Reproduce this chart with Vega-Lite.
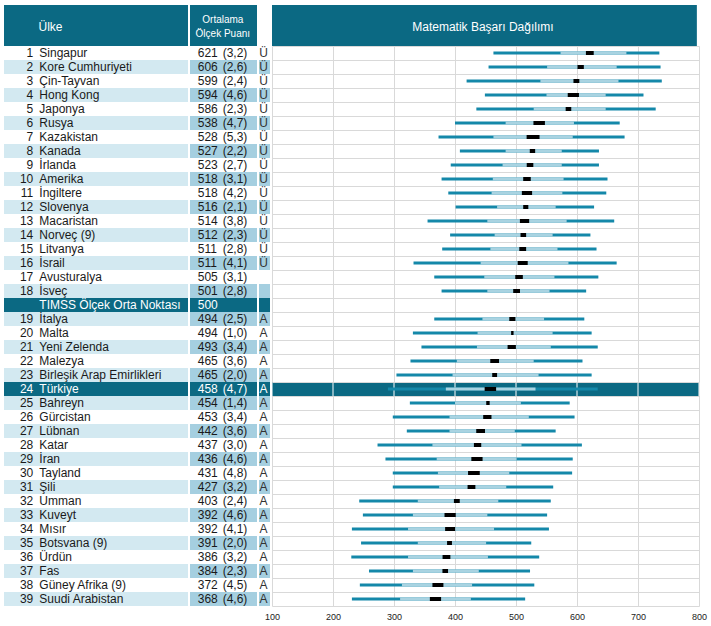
{
  "$schema": "https://vega.github.io/schema/vega-lite/v6.json",
  "padding": {"left": 4, "top": 5, "right": 4, "bottom": 4},
  "datasets": {
    "tablo": [
      {"sira":1,"no":1,"ulke":"Singapur","puan":621,"hata":"(3,2)","harf":"Ü","tur":"ulke","p5":463,"p25":573,"ort_alt":614.6,"ort_ust":627.4,"p75":681,"p95":735},
      {"sira":2,"no":2,"ulke":"Kore Cumhuriyeti","puan":606,"hata":"(2,6)","harf":"Ü","tur":"ulke","p5":455,"p25":551,"ort_alt":600.8,"ort_ust":611.2,"p75":665,"p95":737},
      {"sira":3,"no":3,"ulke":"Çin-Tayvan","puan":599,"hata":"(2,4)","harf":"Ü","tur":"ulke","p5":419,"p25":540,"ort_alt":594.2,"ort_ust":603.8,"p75":668,"p95":739},
      {"sira":4,"no":4,"ulke":"Hong Kong","puan":594,"hata":"(4,6)","harf":"Ü","tur":"ulke","p5":449,"p25":550,"ort_alt":584.8,"ort_ust":603.2,"p75":647,"p95":709},
      {"sira":5,"no":5,"ulke":"Japonya","puan":586,"hata":"(2,3)","harf":"Ü","tur":"ulke","p5":435,"p25":529,"ort_alt":581.4,"ort_ust":590.6,"p75":647,"p95":729},
      {"sira":6,"no":6,"ulke":"Rusya","puan":538,"hata":"(4,7)","harf":"Ü","tur":"ulke","p5":400,"p25":483,"ort_alt":528.6,"ort_ust":547.4,"p75":595,"p95":670},
      {"sira":7,"no":7,"ulke":"Kazakistan","puan":528,"hata":"(5,3)","harf":"Ü","tur":"ulke","p5":373,"p25":463,"ort_alt":517.4,"ort_ust":538.6,"p75":593,"p95":678},
      {"sira":8,"no":8,"ulke":"Kanada","puan":527,"hata":"(2,2)","harf":"Ü","tur":"ulke","p5":408,"p25":483,"ort_alt":522.6,"ort_ust":531.4,"p75":575,"p95":636},
      {"sira":9,"no":9,"ulke":"İrlanda","puan":523,"hata":"(2,7)","harf":"Ü","tur":"ulke","p5":393,"p25":478,"ort_alt":517.6,"ort_ust":528.4,"p75":575,"p95":636},
      {"sira":10,"no":10,"ulke":"Amerika","puan":518,"hata":"(3,1)","harf":"Ü","tur":"ulke","p5":378,"p25":462,"ort_alt":511.8,"ort_ust":524.2,"p75":578,"p95":650},
      {"sira":11,"no":11,"ulke":"İngiltere","puan":518,"hata":"(4,2)","harf":"Ü","tur":"ulke","p5":389,"p25":460,"ort_alt":509.6,"ort_ust":526.4,"p75":576,"p95":648},
      {"sira":12,"no":12,"ulke":"Slovenya","puan":516,"hata":"(2,1)","harf":"Ü","tur":"ulke","p5":401,"p25":469,"ort_alt":511.8,"ort_ust":520.2,"p75":565,"p95":628},
      {"sira":13,"no":13,"ulke":"Macaristan","puan":514,"hata":"(3,8)","harf":"Ü","tur":"ulke","p5":355,"p25":453,"ort_alt":506.4,"ort_ust":521.6,"p75":583,"p95":661},
      {"sira":14,"no":14,"ulke":"Norveç (9)","puan":512,"hata":"(2,3)","harf":"Ü","tur":"ulke","p5":392,"p25":465,"ort_alt":507.4,"ort_ust":516.6,"p75":560,"p95":622},
      {"sira":15,"no":15,"ulke":"Litvanya","puan":511,"hata":"(2,8)","harf":"Ü","tur":"ulke","p5":379,"p25":458,"ort_alt":505.4,"ort_ust":516.6,"p75":568,"p95":632},
      {"sira":16,"no":16,"ulke":"İsrail","puan":511,"hata":"(4,1)","harf":"Ü","tur":"ulke","p5":332,"p25":442,"ort_alt":502.8,"ort_ust":519.2,"p75":586,"p95":665},
      {"sira":17,"no":17,"ulke":"Avusturalya","puan":505,"hata":"(3,1)","harf":"","tur":"ulke","p5":366,"p25":448,"ort_alt":498.8,"ort_ust":511.2,"p75":563,"p95":635},
      {"sira":18,"no":18,"ulke":"İsveç","puan":501,"hata":"(2,8)","harf":"","tur":"ulke","p5":378,"p25":453,"ort_alt":495.4,"ort_ust":506.6,"p75":555,"p95":615},
      {"sira":19,"no":null,"ulke":"TIMSS Ölçek Orta Noktası","puan":500,"hata":"","harf":"","tur":"orta"},
      {"sira":20,"no":19,"ulke":"İtalya","puan":494,"hata":"(2,5)","harf":"A","tur":"ulke","p5":366,"p25":445,"ort_alt":489,"ort_ust":499,"p75":546,"p95":612},
      {"sira":21,"no":20,"ulke":"Malta","puan":494,"hata":"(1,0)","harf":"A","tur":"ulke","p5":331,"p25":437,"ort_alt":492,"ort_ust":496,"p75":560,"p95":624},
      {"sira":22,"no":21,"ulke":"Yeni Zelenda","puan":493,"hata":"(3,4)","harf":"A","tur":"ulke","p5":345,"p25":436,"ort_alt":486.2,"ort_ust":499.8,"p75":557,"p95":634},
      {"sira":23,"no":22,"ulke":"Malezya","puan":465,"hata":"(3,6)","harf":"A","tur":"ulke","p5":327,"p25":403,"ort_alt":457.8,"ort_ust":472.2,"p75":529,"p95":609},
      {"sira":24,"no":23,"ulke":"Birleşik Arap Emirlikleri","puan":465,"hata":"(2,0)","harf":"A","tur":"ulke","p5":304,"p25":396,"ort_alt":461,"ort_ust":469,"p75":537,"p95":624},
      {"sira":25,"no":24,"ulke":"Türkiye","puan":458,"hata":"(4,7)","harf":"A","tur":"turkiye","p5":290,"p25":385,"ort_alt":448.6,"ort_ust":467.4,"p75":532,"p95":634},
      {"sira":26,"no":25,"ulke":"Bahreyn","puan":454,"hata":"(1,4)","harf":"A","tur":"ulke","p5":326,"p25":400,"ort_alt":451.2,"ort_ust":456.8,"p75":508,"p95":588},
      {"sira":27,"no":26,"ulke":"Gürcistan","puan":453,"hata":"(3,4)","harf":"A","tur":"ulke","p5":298,"p25":391,"ort_alt":446.2,"ort_ust":459.8,"p75":521,"p95":596},
      {"sira":28,"no":27,"ulke":"Lübnan","puan":442,"hata":"(3,6)","harf":"A","tur":"ulke","p5":321,"p25":391,"ort_alt":434.8,"ort_ust":449.2,"p75":498,"p95":565},
      {"sira":29,"no":28,"ulke":"Katar","puan":437,"hata":"(3,0)","harf":"A","tur":"ulke","p5":273,"p25":363,"ort_alt":431,"ort_ust":443,"p75":509,"p95":608},
      {"sira":30,"no":29,"ulke":"İran","puan":436,"hata":"(4,6)","harf":"A","tur":"ulke","p5":286,"p25":370,"ort_alt":426.8,"ort_ust":445.2,"p75":501,"p95":593},
      {"sira":31,"no":30,"ulke":"Tayland","puan":431,"hata":"(4,8)","harf":"A","tur":"ulke","p5":298,"p25":372,"ort_alt":421.4,"ort_ust":440.6,"p75":489,"p95":592},
      {"sira":32,"no":31,"ulke":"Şili","puan":427,"hata":"(3,2)","harf":"A","tur":"ulke","p5":298,"p25":374,"ort_alt":420.6,"ort_ust":433.4,"p75":484,"p95":561},
      {"sira":33,"no":32,"ulke":"Umman","puan":403,"hata":"(2,4)","harf":"A","tur":"ulke","p5":243,"p25":339,"ort_alt":398.2,"ort_ust":407.8,"p75":471,"p95":557},
      {"sira":34,"no":33,"ulke":"Kuveyt","puan":392,"hata":"(4,6)","harf":"A","tur":"ulke","p5":249,"p25":331,"ort_alt":382.8,"ort_ust":401.2,"p75":453,"p95":551},
      {"sira":35,"no":34,"ulke":"Mısır","puan":392,"hata":"(4,1)","harf":"A","tur":"ulke","p5":231,"p25":323,"ort_alt":383.8,"ort_ust":400.2,"p75":464,"p95":554},
      {"sira":36,"no":35,"ulke":"Botsvana (9)","puan":391,"hata":"(2,0)","harf":"A","tur":"ulke","p5":246,"p25":339,"ort_alt":387,"ort_ust":395,"p75":451,"p95":525},
      {"sira":37,"no":36,"ulke":"Ürdün","puan":386,"hata":"(3,2)","harf":"A","tur":"ulke","p5":230,"p25":323,"ort_alt":379.6,"ort_ust":392.4,"p75":454,"p95":538},
      {"sira":38,"no":37,"ulke":"Fas","puan":384,"hata":"(2,3)","harf":"A","tur":"ulke","p5":259,"p25":331,"ort_alt":379.4,"ort_ust":388.6,"p75":439,"p95":523},
      {"sira":39,"no":38,"ulke":"Güney Afrika (9)","puan":372,"hata":"(4,5)","harf":"A","tur":"ulke","p5":244,"p25":313,"ort_alt":363,"ort_ust":381,"p75":428,"p95":530},
      {"sira":40,"no":39,"ulke":"Suudi Arabistan","puan":368,"hata":"(4,6)","harf":"A","tur":"ulke","p5":231,"p25":310,"ort_alt":358.8,"ort_ust":377.2,"p75":426,"p95":515}
    ],
    "izgara": [{"deger":100},{"deger":200},{"deger":300},{"deger":400},{"deger":500},{"deger":600},{"deger":700},{"deger":800}]
  },
  "columns": 4,
  "spacing": {"row": 0, "column": 2},
  "bounds": "flush",
  "concat": [
    {
      "width": 184, "height": 41,
      "data": {"values": [{"baslik": "Ülke"}]},
      "layer": [
        {"mark": {"type": "rect", "fill": "#0b6983"},
         "encoding": {"x": {"datum": 0, "scale": {"domain": [0, 1]}, "axis": null}, "x2": {"datum": 1},
                      "y": {"datum": 0, "scale": {"domain": [0, 1]}, "axis": null}, "y2": {"datum": 1}}},
        {"mark": {"type": "text", "align": "left", "baseline": "middle", "fontSize": 12, "fill": "#ffffff"},
         "encoding": {"x": {"datum": 0.1875}, "y": {"datum": 0.47}, "text": {"field": "baslik"}}}
      ]
    },
    {
      "width": 67, "height": 41,
      "data": {"values": [{"baslik": "Ortalama\nÖlçek Puanı"}]},
      "layer": [
        {"mark": {"type": "rect", "fill": "#0b6983"},
         "encoding": {"x": {"datum": 0, "scale": {"domain": [0, 1]}, "axis": null}, "x2": {"datum": 1},
                      "y": {"datum": 0, "scale": {"domain": [0, 1]}, "axis": null}, "y2": {"datum": 1}}},
        {"mark": {"type": "text", "align": "center", "baseline": "top", "fontSize": 10, "lineHeight": 14, "lineBreak": "\n", "fill": "#ffffff"},
         "encoding": {"x": {"datum": 0.49}, "y": {"datum": 0.75}, "text": {"field": "baslik"}}}
      ]
    },
    {
      "width": 11, "height": 41,
      "data": {"values": [{"baslik": ""}]},
      "mark": {"type": "text", "opacity": 0},
      "encoding": {"text": {"field": "baslik"}}
    },
    {
      "width": 427, "height": 41,
      "data": {"values": [{"baslik": "Matematik Başarı Dağılımı"}]},
      "layer": [
        {"mark": {"type": "rect", "fill": "#0b6983"},
         "encoding": {"x": {"datum": 0, "scale": {"domain": [0, 1]}, "axis": null}, "x2": {"datum": 0.995},
                      "y": {"datum": 0, "scale": {"domain": [0, 1]}, "axis": null}, "y2": {"datum": 1}}},
        {"mark": {"type": "text", "align": "center", "baseline": "middle", "fontSize": 12, "fill": "#ffffff"},
         "encoding": {"x": {"datum": 0.494}, "y": {"datum": 0.47}, "text": {"field": "baslik"}}}
      ]
    },
    {
      "width": 184, "height": 560,
      "data": {"name": "tablo"},
      "encoding": {"y": {"field": "sira", "type": "ordinal", "axis": null, "scale": {"paddingInner": 0, "paddingOuter": 0}}},
      "layer": [
        {"mark": {"type": "rect"},
         "encoding": {"x": {"datum": 0, "scale": {"domain": [0, 1]}, "axis": null}, "x2": {"datum": 1},
                      "fill": {"condition": [{"test": "datum.tur != 'ulke'", "value": "#0b6983"}, {"test": "datum.sira % 2 == 0", "value": "#d3e9f1"}], "value": "#ffffff"}}},
        {"transform": [{"filter": "isValid(datum.no)"}],
         "mark": {"type": "text", "align": "right", "baseline": "middle", "fontSize": 12},
         "encoding": {"x": {"datum": 0.159}, "text": {"field": "no", "type": "nominal"},
                      "fill": {"condition": {"test": "datum.tur != 'ulke'", "value": "#ffffff"}, "value": "#1a1a1a"}}},
        {"mark": {"type": "text", "align": "left", "baseline": "middle", "fontSize": 12},
         "encoding": {"x": {"datum": 0.192}, "text": {"field": "ulke", "type": "nominal"},
                      "fill": {"condition": {"test": "datum.tur != 'ulke'", "value": "#ffffff"}, "value": "#1a1a1a"}}}
      ]
    },
    {
      "width": 67, "height": 560,
      "data": {"name": "tablo"},
      "encoding": {"y": {"field": "sira", "type": "ordinal", "axis": null, "scale": {"paddingInner": 0, "paddingOuter": 0}}},
      "layer": [
        {"mark": {"type": "rect"},
         "encoding": {"x": {"datum": 0, "scale": {"domain": [0, 1]}, "axis": null}, "x2": {"datum": 1},
                      "fill": {"condition": [{"test": "datum.tur != 'ulke'", "value": "#0b6983"}, {"test": "datum.sira % 2 == 0", "value": "#a5cfe0"}], "value": "#ffffff"}}},
        {"mark": {"type": "text", "align": "left", "baseline": "middle", "fontSize": 12},
         "encoding": {"x": {"datum": 0.115}, "text": {"field": "puan", "type": "nominal"},
                      "fill": {"condition": {"test": "datum.tur != 'ulke'", "value": "#ffffff"}, "value": "#1a1a1a"}}},
        {"mark": {"type": "text", "align": "left", "baseline": "middle", "fontSize": 12},
         "encoding": {"x": {"datum": 0.488}, "text": {"field": "hata", "type": "nominal"},
                      "fill": {"condition": {"test": "datum.tur != 'ulke'", "value": "#ffffff"}, "value": "#1a1a1a"}}}
      ]
    },
    {
      "width": 11, "height": 560,
      "data": {"name": "tablo"},
      "encoding": {"y": {"field": "sira", "type": "ordinal", "axis": null, "scale": {"paddingInner": 0, "paddingOuter": 0}}},
      "layer": [
        {"mark": {"type": "rect"},
         "encoding": {"x": {"datum": 0, "scale": {"domain": [0, 1]}, "axis": null}, "x2": {"datum": 1},
                      "fill": {"condition": [{"test": "datum.tur != 'ulke'", "value": "#0b6983"}, {"test": "datum.sira % 2 == 0", "value": "#a5cfe0"}], "value": "#ffffff"}}},
        {"mark": {"type": "text", "align": "center", "baseline": "middle", "fontSize": 12},
         "encoding": {"x": {"datum": 0.42}, "text": {"field": "harf", "type": "nominal"},
                      "fill": {"condition": {"test": "datum.tur != 'ulke'", "value": "#ffffff"}, "value": "#333333"}}}
      ]
    },
    {
      "width": 427, "height": 560,
      "data": {"name": "tablo"},
      "layer": [
        {"mark": {"type": "rect"},
         "encoding": {
           "y": {"field": "sira", "type": "ordinal", "scale": {"paddingInner": 0, "paddingOuter": 0},
                 "axis": {"grid": true, "bandPosition": 0, "labels": false, "ticks": false, "domain": false, "title": null, "gridColor": "#d9d9d9"}},
           "x": {"datum": 100, "type": "quantitative", "scale": {"domain": [100, 800], "nice": false, "zero": false, "padding": 0},
                 "axis": {"values": [100, 200, 300, 400, 500, 600, 700, 800], "grid": true, "gridColor": "#d9d9d9", "ticks": false, "domain": true, "domainColor": "#d9d9d9", "labelFontSize": 9, "labelColor": "#222222", "labelPadding": 6, "labelFlush": false, "title": null}},
           "x2": {"datum": 800},
           "fill": {"condition": {"test": "datum.tur == 'turkiye'", "value": "#0b6983"}, "value": "transparent"}
         }},
        {"data": {"name": "izgara"},
         "mark": {"type": "tick", "orient": "vertical", "color": "#ffffff", "thickness": 1, "size": 14, "opacity": 1},
         "encoding": {"x": {"field": "deger", "type": "quantitative"}, "y": {"datum": 25, "type": "ordinal"}}},
        {"transform": [{"filter": "isValid(datum.p5)"}],
         "mark": {"type": "bar", "size": 3, "color": "#1488a9"},
         "encoding": {"y": {"field": "sira", "type": "ordinal"}, "x": {"field": "p5", "type": "quantitative"}, "x2": {"field": "p95"}}},
        {"transform": [{"filter": "isValid(datum.p25)"}],
         "mark": {"type": "bar", "size": 3, "color": "#a9d3e1"},
         "encoding": {"y": {"field": "sira", "type": "ordinal"}, "x": {"field": "p25", "type": "quantitative"}, "x2": {"field": "p75"}}},
        {"transform": [{"filter": "isValid(datum.ort_alt)"}],
         "mark": {"type": "bar", "size": 4, "color": "#000000"},
         "encoding": {"y": {"field": "sira", "type": "ordinal"}, "x": {"field": "ort_alt", "type": "quantitative"}, "x2": {"field": "ort_ust"}}}
      ]
    }
  ],
  "config": {
    "font": "Liberation Sans",
    "view": {"stroke": null},
    "axis": {"labelFont": "Liberation Sans"}
  }
}
